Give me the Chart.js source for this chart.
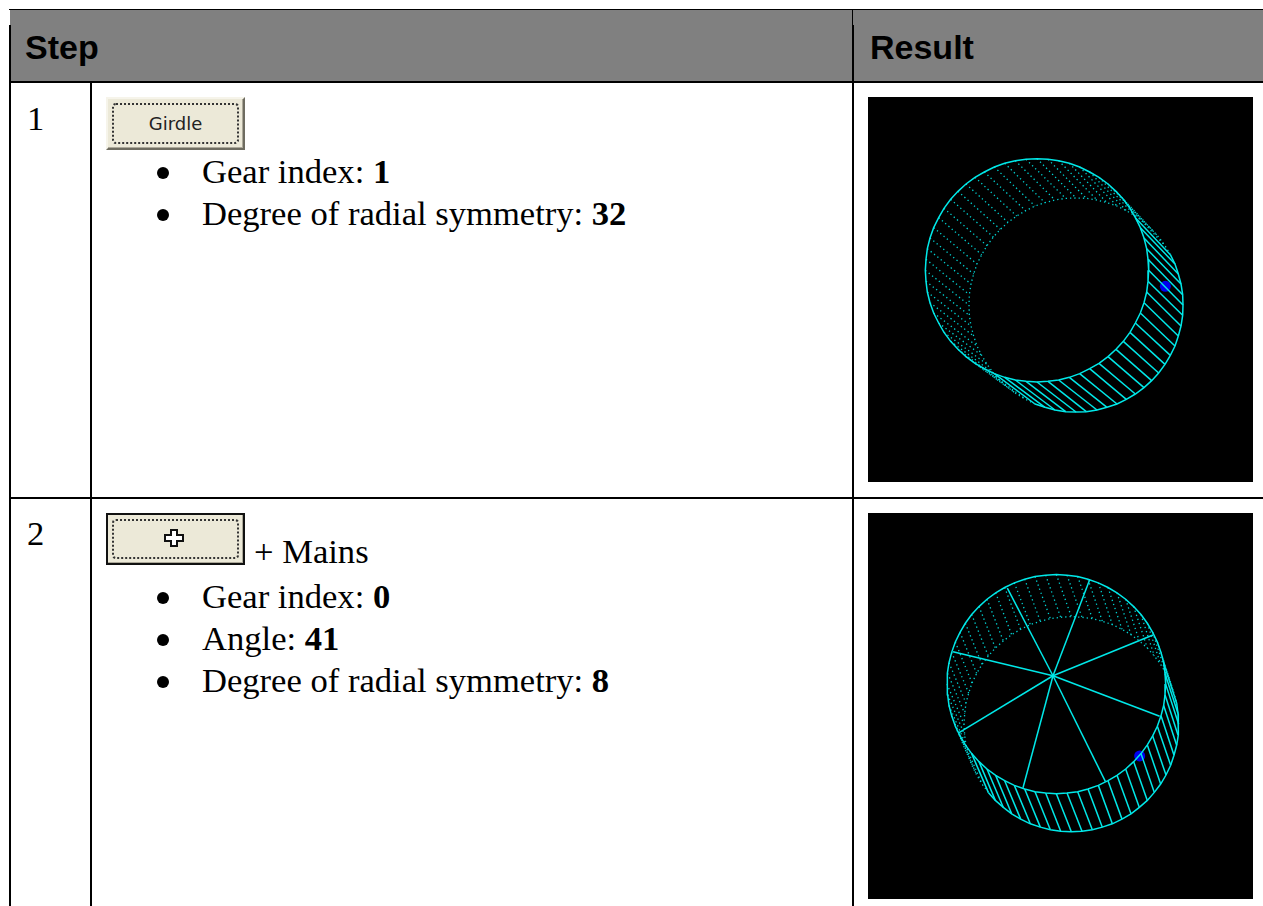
<!DOCTYPE html>
<html>
<head>
<meta charset="utf-8">
<title>Step / Result</title>
<script src="https://cdn.jsdelivr.net/npm/chart.js@4/dist/chart.umd.min.js"></script>
<style>
html,body{margin:0;padding:0;background:#fff;width:1263px;height:906px;overflow:hidden}
.b{position:absolute;background:#000}
.t{position:absolute;white-space:pre;font-family:"Liberation Serif",serif;font-size:34.6px;line-height:34px;color:#000}
.h{position:absolute;white-space:pre;font-family:"Liberation Sans",sans-serif;font-weight:bold;font-size:34px;line-height:36px;color:#000}
.dot{position:absolute;width:12px;height:12px;border-radius:50%;background:#000}
.btn{position:absolute;left:106px;width:139px;box-sizing:border-box;background:#ece9d8;
 border-style:solid;border-width:2px;border-color:#f6f4ea #6e6c60 #6e6c60 #f6f4ea;box-shadow:inset -1px -1px 0 #aca899}
.btn i{position:absolute;left:4px;top:4px;right:4px;bottom:4px;border:2px dotted #333;border-radius:4px}
.btn span{position:absolute;left:0;right:0;text-align:center;font:18px "DejaVu Sans",sans-serif;color:#222}
canvas{position:absolute}
</style>
</head>
<body>
<div style="position:absolute;left:10px;top:10px;width:1253px;height:71px;background:#808080"></div>
<div class="b" style="left:9px;top:9px;width:1254px;height:1px"></div>
<div class="b" style="left:9px;top:81px;width:1254px;height:2px"></div>
<div class="b" style="left:9px;top:497px;width:1254px;height:2px"></div>
<div class="b" style="left:9px;top:25px;width:2px;height:881px"></div>
<div class="b" style="left:90px;top:82px;width:2px;height:824px"></div>
<div class="b" style="left:852px;top:10px;width:1px;height:16px"></div>
<div class="b" style="left:852px;top:25px;width:2px;height:881px"></div>

<div class="h" style="left:25px;top:29px">Step</div>
<div class="h" style="left:870px;top:29px">Result</div>

<div class="t" style="left:27px;top:101px">1</div>
<div class="btn" style="top:97px;height:53px"><i></i><span style="top:14px">Girdle</span></div>
<div class="dot" style="left:157px;top:167px"></div>
<div class="t" style="left:202px;top:154px">Gear index: <b>1</b></div>
<div class="dot" style="left:157px;top:209px"></div>
<div class="t" style="left:202px;top:196px">Degree of radial symmetry: <b>32</b></div>

<div class="t" style="left:27px;top:516px">2</div>
<div class="btn" style="top:513px;height:52px;outline:2px solid #111;outline-offset:-2px"><i></i>
 <svg style="position:absolute;left:55px;top:14px" width="22" height="18" viewBox="0 0 22 18"><path d="M8 1h6v5h6v6h-6v5h-6v-5h-6v-6h6z" fill="#fff" stroke="#111" stroke-width="2"/></svg></div>
<div class="t" style="left:254px;top:534px">+ Mains</div>
<div class="dot" style="left:157px;top:592px"></div>
<div class="t" style="left:202px;top:579px">Gear index: <b>0</b></div>
<div class="dot" style="left:157px;top:634px"></div>
<div class="t" style="left:202px;top:621px">Angle: <b>41</b></div>
<div class="dot" style="left:157px;top:676px"></div>
<div class="t" style="left:202px;top:663px">Degree of radial symmetry: <b>8</b></div>

<canvas id="girdleChart" width="385" height="385" style="left:868px;top:97px;background:#000"></canvas>
<canvas id="mainsChart" width="385" height="386" style="left:868px;top:513px;background:#000"></canvas>

<script>
const girdleTopX = [842,840,836,828,817,802,786,766,744,720,693,665,635,604,572,540,507,474,442,410,379,349,321,294,270,248,228,212,197,186,178,174,172,174,178,186,197,212,228,248,270,294,321,349,379,410,442,474,507,540,572,604,635,665,693,720,744,766,786,802,817,828,836,840]
const girdleTopY = [520,553,585,617,648,678,706,733,757,779,799,815,830,841,849,853,855,853,849,841,830,815,799,779,757,733,706,678,648,617,585,553,520,487,455,423,392,362,334,307,283,261,241,225,210,199,191,187,185,187,191,199,210,225,241,261,283,307,334,362,392,423,455,487]
const girdleBottomX = [945,944,939,931,921,907,891,872,851,828,802,775,747,717,687,655,624,593,561,531,501,473,446,420,397,376,357,341,327,317,309,304,303,304,309,317,327,341,357,376,397,420,446,473,501,531,561,593,624,655,687,717,747,775,802,828,851,872,891,907,921,931,939,944]
const girdleBottomY = [624,655,687,717,747,775,802,828,851,872,891,907,921,931,939,944,945,944,939,931,921,907,891,872,851,828,802,775,747,717,687,655,624,593,561,531,501,473,446,420,397,376,357,341,327,317,309,304,303,304,309,317,327,341,357,376,397,420,446,473,501,531,561,593]
const girdleDotX = [892]
const girdleDotY = [568]

const mainsTopX = [893,891,887,879,868,854,838,819,797,773,747,720,691,660,629,597,565,533,501,470,439,410,383,357,333,311,292,276,262,251,243,239,237,239,243,251,262,276,292,311,333,357,383,410,439,470,501,533,565,597,629,660,691,720,747,773,797,819,838,854,868,879,887,891]
const mainsTopY = [512,544,576,607,638,667,694,720,744,766,785,801,815,826,834,838,840,838,834,826,815,801,785,766,744,720,694,667,638,607,576,544,512,480,448,417,386,357,330,304,280,258,239,223,209,198,190,186,184,186,190,198,209,223,239,258,280,304,330,357,386,417,448,480]
const mainsBottomX = [932,930,926,918,908,894,878,859,838,814,789,762,733,703,673,642,610,578,547,517,487,458,431,406,382,361,342,326,312,302,294,290,288,290,294,302,312,326,342,361,382,406,431,458,487,517,547,578,610,642,673,703,733,762,789,814,838,859,878,894,908,918,926,930]
const mainsBottomY = [632,664,695,725,755,784,811,836,860,881,900,916,930,940,948,952,954,952,948,940,930,916,900,881,860,836,811,784,755,725,695,664,632,600,569,539,509,480,453,428,404,383,364,348,334,324,316,312,310,312,316,324,334,348,364,383,404,428,453,480,509,539,569,600]
const spokeX = [665,855,875,712,465,272,255,418]
const spokeY = [200,365,608,803,822,658,415,225]
const hubX = 555
const hubY = 487
const mainsDotX = [815]
const mainsDotY = [727]

const solid = '#00e8e8'
const dim = '#00d4d4'

function run(xs, ys, from, to){
    const pts = []
    let i = from
    while(true){
        pts.push({x:xs[i], y:ys[i]})
        if(i === to) break
        i = (i + 1) % xs.length
    }
    return pts
}

function lineSet(pts, dashed){
    return {
        data: pts,
        showLine: true,
        borderColor: dashed ? dim : solid,
        borderWidth: dashed ? 1.3 : 1.5,
        borderDash: dashed ? [1.3,3] : [],
        pointRadius: 0,
        tension: 0
    }
}

function drawWire(id, topX, topY, botX, botY, solidFrom, solidTo, extra){
    const sets = []
    sets.push(lineSet(run(topX, topY, 0, 63).concat({x:topX[0], y:topY[0]}), false))
    sets.push(lineSet(run(botX, botY, solidFrom, solidTo), false))
    sets.push(lineSet(run(botX, botY, solidTo, solidFrom), true))
    topX.forEach((e,i) => {
        const front = solidFrom > solidTo ? (i >= solidFrom || i <= solidTo) : (i >= solidFrom && i <= solidTo)
        sets.push(lineSet([{x:topX[i], y:topY[i]}, {x:botX[i], y:botY[i]}], !front))
    })
    extra.forEach(e => sets.push(e))
    new Chart(document.getElementById(id), {
        type: 'scatter',
        data: { datasets: sets },
        options: {
            responsive: false,
            animation: false,
            events: [],
            layout: { padding: 0, autoPadding: false },
            plugins: { legend: { display: false }, tooltip: { enabled: false } },
            scales: {
                x: { display: false, min: 0, max: 1155 },
                y: { display: false, min: 0, max: 1155, reverse: true }
            }
        }
    })
}

function dotSet(xs, ys){
    return {
        data: xs.map((e,i) => ({x:e, y:ys[i]})),
        pointRadius: 5.5,
        pointBackgroundColor: '#0000f0',
        pointBorderWidth: 0,
        showLine: false
    }
}

drawWire('girdleChart', girdleTopX, girdleTopY, girdleBottomX, girdleBottomY, 59, 20,
    [dotSet(girdleDotX, girdleDotY)])

const spokes = spokeX.map((e,i) => lineSet([{x:hubX, y:hubY}, {x:e, y:spokeY[i]}], false))
drawWire('mainsChart', mainsTopX, mainsTopY, mainsBottomX, mainsBottomY, 62, 25,
    spokes.concat([dotSet(mainsDotX, mainsDotY)]))
</script>
</body>
</html>
